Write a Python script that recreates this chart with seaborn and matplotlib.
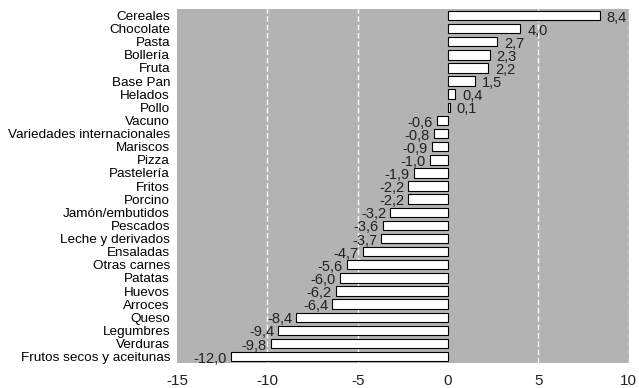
import matplotlib
matplotlib.use("Agg")
import matplotlib.pyplot as plt
import seaborn as sns
import pandas as pd

categorias = ["Cereales", "Chocolate", "Pasta", "Bollería", "Fruta", "Base Pan",
              "Helados", "Pollo", "Vacuno", "Variedades internacionales", "Mariscos",
              "Pizza", "Pastelería", "Fritos", "Porcino", "Jamón/embutidos", "Pescados",
              "Leche y derivados", "Ensaladas", "Otras carnes", "Patatas", "Huevos",
              "Arroces", "Queso", "Legumbres", "Verduras", "Frutos secos y aceitunas"]
valores = [8.4, 4.0, 2.7, 2.3, 2.2, 1.5, 0.4, 0.1, -0.6, -0.8, -0.9, -1.0, -1.9,
           -2.2, -2.2, -3.2, -3.6, -3.7, -4.7, -5.6, -6.0, -6.2, -6.4, -8.4,
           -9.4, -9.8, -12.0]
ticks = [-15, -10, -5, 0, 5, 10]

df = pd.DataFrame({"cat": categorias, "val": valores})

sns.set_style("white")
plt.rcParams["font.family"] = ["Liberation Sans", "DejaVu Sans"]

fig = plt.figure(figsize=(6.39, 3.88), dpi=100)
ax = fig.add_axes([0.277, 0.064, 0.707, 0.913])
ax.set_facecolor("#b3b3b3")

sns.barplot(data=df, x="val", y="cat", orient="h", color="white",
            edgecolor="black", linewidth=0.8, width=0.72, saturation=1, ax=ax)

for x in [-10, -5, 5, 10]:
    ax.axvline(x, color="white", linestyle=(0, (4, 2)), linewidth=1, zorder=0.5)

for i, v in enumerate(valores):
    txt = f"{v:.1f}".replace(".", ",")
    if v >= 0:
        ax.annotate(txt, (v, i), xytext=(5, -1.5), textcoords="offset points",
                    ha="left", va="center", fontsize=10.5, color="#222222")
    else:
        ax.annotate(txt, (v, i), xytext=(-3, -1.5), textcoords="offset points",
                    ha="right", va="center", fontsize=10.5, color="#222222")

ax.set_xlim(-15, 10)
ax.set_ylim(len(categorias) - 0.5, -0.5)
ax.set_xticks(ticks)
ax.set_xticklabels([str(t) for t in ticks], fontsize=11, color="#222222")
ax.tick_params(axis="x", length=0, pad=8)
ax.tick_params(axis="y", length=0, pad=5, labelsize=9.7, labelcolor="black")
ax.set_xlabel("")
ax.set_ylabel("")
for s in ax.spines.values():
    s.set_visible(False)

fig.savefig("out.png", dpi=100, facecolor="white")
